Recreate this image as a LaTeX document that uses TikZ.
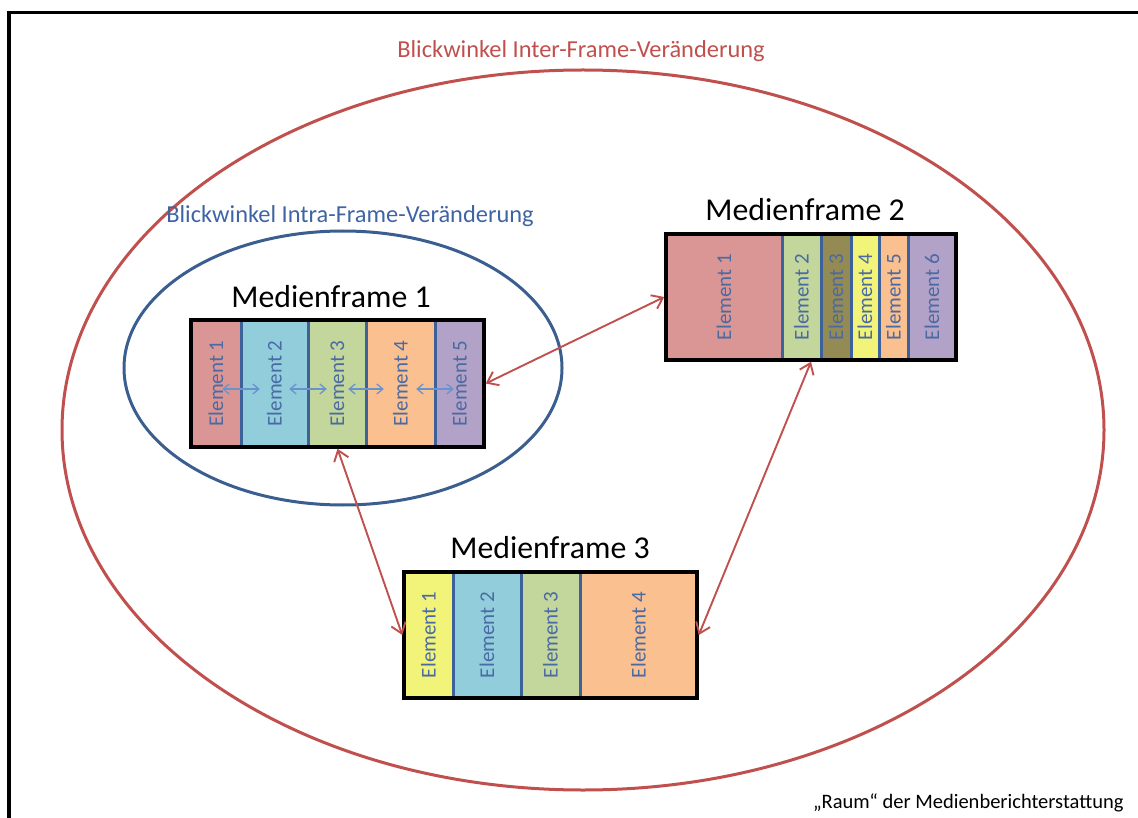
\documentclass[tikz,border=0pt]{standalone}
\usepackage{fontspec}
\setmainfont{Carlito}
\usetikzlibrary{arrows.meta}

\definecolor{redc}{HTML}{C0504D}
\definecolor{ellblue}{HTML}{3B5E91}
\definecolor{intrablue}{HTML}{3E64A4}
\definecolor{divblue}{HTML}{3C6299}
\definecolor{elemtext}{HTML}{4A6AA3}
\definecolor{arrblue}{HTML}{6A93CC}
\definecolor{cred}{HTML}{D99694}
\definecolor{cblue}{HTML}{92CDDC}
\definecolor{cgreen}{HTML}{C3D69B}
\definecolor{corange}{HTML}{FAC090}
\definecolor{cpurple}{HTML}{B3A2C7}
\definecolor{cyellow}{HTML}{F2F47A}
\definecolor{colive}{HTML}{948A54}

\tikzset{
  col/.style={inner sep=0pt, text=elemtext, font=\fontsize{21}{25}\selectfont},
  divider/.style={draw=divblue, line width=3},
  framebox/.style={draw=black, line width=3.5, inner sep=0pt},
  frametitle/.style={font=\fontsize{31.8}{37}\selectfont, text=black},
  redarrow/.style={draw=redc, line width=1.9,
    {Straight Barb[length=10, width=15]}-{Straight Barb[length=10, width=15]}},
  bluearrow/.style={draw=arrblue, line width=1.3,
    {Straight Barb[length=6, width=10]}-{Straight Barb[length=6, width=10]}},
}

\begin{document}
\begin{tikzpicture}[x=1pt, y=-1pt]
\useasboundingbox (0,0) rectangle (1138,818);

% page border (left and top edges)
\draw[line width=3.5] (9,818) -- (9,12.5) -- (1138,12.5);

% perspective ellipses
\draw[redc, line width=3] (583,430) ellipse [x radius=521, y radius=360];
\draw[ellblue, line width=3] (343,368) ellipse [x radius=219, y radius=137];

% perspective labels
\node[text=redc, font=\fontsize{24.4}{29}\selectfont] (inter) at (581,51)
  {Blickwinkel Inter-Frame-Veränderung};
\node[text=intrablue, font=\fontsize{24.4}{29}\selectfont] (intra) at (350,216)
  {Blickwinkel Intra-Frame-Veränderung};

% ---- Medienframe 1 ----
\node[frametitle] (t1) at (331,297) {Medienframe 1};
\begin{scope}[col/.append style={minimum height=127}]
\node[col, fill=cred,    minimum width=50] (f1e1) at (216,383.5)   {\rotatebox{90}{Element 1}};
\node[col, fill=cblue,   minimum width=67] (f1e2) at (274.5,383.5) {\rotatebox{90}{Element 2}};
\node[col, fill=cgreen,  minimum width=58] (f1e3) at (337,383.5)   {\rotatebox{90}{Element 3}};
\node[col, fill=corange, minimum width=69] (f1e4) at (400.5,383.5) {\rotatebox{90}{Element 4}};
\node[col, fill=cpurple, minimum width=49] (f1e5) at (459.5,383.5) {\rotatebox{90}{Element 5}};
\end{scope}
\foreach \c in {f1e1,f1e2,f1e3,f1e4}
  \draw[divider] (\c.north east) -- (\c.south east);
\node[framebox, minimum width=293, minimum height=127] (f1) at (337.5,383.5) {};

% relations between neighbouring elements
\draw[bluearrow] ([shift={(-19,5.5)}]f1e1.east) -- ([shift={(19,5.5)}]f1e2.west);
\draw[bluearrow] ([shift={(-19,5.5)}]f1e2.east) -- ([shift={(19,5.5)}]f1e3.west);
\draw[bluearrow] ([shift={(-18,5.5)}]f1e3.east) -- ([shift={(18,5.5)}]f1e4.west);
\draw[bluearrow] ([shift={(-19,5.5)}]f1e4.east) -- ([shift={(19,5.5)}]f1e5.west);

% ---- Medienframe 2 ----
\node[frametitle] (t2) at (805,210) {Medienframe 2};
\begin{scope}[col/.append style={minimum height=126}]
\node[col, fill=cred,    minimum width=116] (f2e1) at (724,297)   {\rotatebox{90}{Element 1}};
\node[col, fill=cgreen,  minimum width=39]  (f2e2) at (801.5,297) {\rotatebox{90}{Element 2}};
\node[col, fill=colive,  minimum width=30]  (f2e3) at (836,297)   {\rotatebox{90}{Element 3}};
\node[col, fill=cyellow, minimum width=28]  (f2e4) at (865,297)   {\rotatebox{90}{Element 4}};
\node[col, fill=corange, minimum width=29]  (f2e5) at (893.5,297) {\rotatebox{90}{Element 5}};
\node[col, fill=cpurple, minimum width=48]  (f2e6) at (932,297)   {\rotatebox{90}{Element 6}};
\end{scope}
\foreach \c in {f2e1,f2e2,f2e3,f2e4,f2e5}
  \draw[divider] (\c.north east) -- (\c.south east);
\node[framebox, minimum width=290, minimum height=126] (f2) at (811,297) {};

% ---- Medienframe 3 ----
\node[frametitle] (t3) at (550,548) {Medienframe 3};
\begin{scope}[col/.append style={minimum height=126}]
\node[col, fill=cyellow, minimum width=49]  (f3e1) at (428.5,635) {\rotatebox{90}{Element 1}};
\node[col, fill=cblue,   minimum width=68]  (f3e2) at (487,635)   {\rotatebox{90}{Element 2}};
\node[col, fill=cgreen,  minimum width=59]  (f3e3) at (550.5,635) {\rotatebox{90}{Element 3}};
\node[col, fill=corange, minimum width=117] (f3e4) at (638.5,635) {\rotatebox{90}{Element 4}};
\end{scope}
\foreach \c in {f3e1,f3e2,f3e3}
  \draw[divider] (\c.north east) -- (\c.south east);
\node[framebox, minimum width=293, minimum height=126] (f3) at (550.5,635) {};

% relations between frames
\draw[redarrow] (f1.east) -- (f2.west);
\draw[redarrow] (f1.south) -- (f3.west);
\draw[redarrow] (f2.south) -- (f3.east);

% caption
\node[anchor=east, font=\fontsize{20.5}{24}\selectfont] (raum) at (1127,803)
  {„Raum“ der Medienberichterstattung};
\end{tikzpicture}
\end{document}
